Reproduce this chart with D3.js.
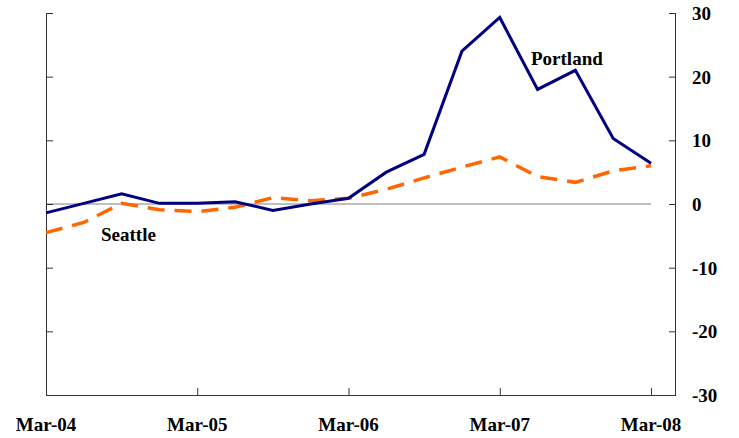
<!DOCTYPE html>
<html>
<head>
<meta charset="utf-8">
<script src="https://cdn.jsdelivr.net/npm/d3@7"></script>
<style>
  html, body { margin: 0; padding: 0; background: #fff; }
  text { font-family: "Liberation Serif", "Times New Roman", serif; font-weight: bold; }
</style>
</head>
<body>
<svg id="chart" width="739" height="438"></svg>
<script>
const quarters = ["Mar-04","Jun-04","Sep-04","Dec-04","Mar-05","Jun-05","Sep-05","Dec-05",
                  "Mar-06","Jun-06","Sep-06","Dec-06","Mar-07","Jun-07","Sep-07","Dec-07","Mar-08"];
const portland = [-1.4, 0.1, 1.6, 0.1, 0.1, 0.35, -1.0, 0.0, 0.9, 5.0, 7.8, 24.0, 29.3, 18.0, 21.0, 10.3, 6.4];
const seattle  = [-4.5, -2.9, 0.1, -0.9, -1.2, -0.5, 1.0, 0.5, 0.9, 2.3, 4.1, 5.8, 7.4, 4.3, 3.4, 5.2, 6.0];
const xTickLabels = ["Mar-04","Mar-05","Mar-06","Mar-07","Mar-08"];
const yTicks = [-30, -20, -10, 0, 10, 20, 30];

const svg = d3.select("#chart");
const plotLeft = 46, plotRight = 675, plotTop = 13, plotBottom = 395;

const x = d3.scaleLinear().domain([0, 16]).range([46, 651]);
const y = d3.scaleLinear().domain([-30, 30]).range([plotBottom, plotTop]);

const axisColor = "#333";

// zero line
svg.append("line")
  .attr("x1", plotLeft).attr("x2", x(16))
  .attr("y1", y(0)).attr("y2", y(0))
  .attr("stroke", "#808080").attr("stroke-width", 1);

// left axis (ticks inward)
const leftAxis = d3.axisRight(y).tickValues(yTicks).tickSize(7).tickFormat("");
const gL = svg.append("g").attr("transform", `translate(${plotLeft},0)`).call(leftAxis);
gL.select(".domain").attr("d", `M0.5,${plotTop}V${plotBottom}`).attr("stroke", axisColor);
gL.selectAll(".tick line").attr("stroke", axisColor);

// right axis (ticks inward, labels outside)
const rightAx = d3.axisLeft(y).tickValues(yTicks).tickSize(6).tickFormat("");
const gR = svg.append("g").attr("transform", `translate(${plotRight},0)`).call(rightAx);
gR.select(".domain").attr("d", `M0.5,${plotTop}V${plotBottom}`).attr("stroke", axisColor);
gR.selectAll(".tick line").attr("stroke", axisColor);

svg.append("g").selectAll("text").data(yTicks).join("text")
  .attr("x", 692).attr("y", d => y(d) + 7)
  .attr("font-size", 19)
  .attr("fill", "#000")
  .text(d => d);

// bottom axis
const xAx = d3.axisTop(x).tickValues([4, 8, 12, 16]).tickSize(7).tickFormat("");
const gB = svg.append("g").attr("transform", `translate(0,${plotBottom})`).call(xAx);
gB.select(".domain").attr("d", `M${plotLeft},0.5H${plotRight + 1}`).attr("stroke", axisColor);
gB.selectAll(".tick line").attr("stroke", axisColor);

svg.append("g").selectAll("text").data(xTickLabels).join("text")
  .attr("x", (d) => x(quarters.indexOf(d)))
  .attr("y", 431)
  .attr("text-anchor", "middle")
  .attr("font-size", 19)
  .attr("fill", "#000")
  .text(d => d);

const line = d3.line().x((d, i) => x(i)).y(d => y(d));

svg.append("path").datum(seattle)
  .attr("d", line)
  .attr("fill", "none")
  .attr("stroke", "#FF6600")
  .attr("stroke-width", 3.5)
  .attr("stroke-dasharray", "17,10");

svg.append("path").datum(portland)
  .attr("d", line)
  .attr("fill", "none")
  .attr("stroke", "#000080")
  .attr("stroke-width", 3)
  .attr("stroke-linejoin", "miter");

// series labels
svg.append("text").attr("x", 531).attr("y", 65).attr("font-size", 19).attr("fill", "#000").text("Portland");
svg.append("text").attr("x", 101).attr("y", 241).attr("font-size", 19).attr("fill", "#000").text("Seattle");
</script>
</body>
</html>
